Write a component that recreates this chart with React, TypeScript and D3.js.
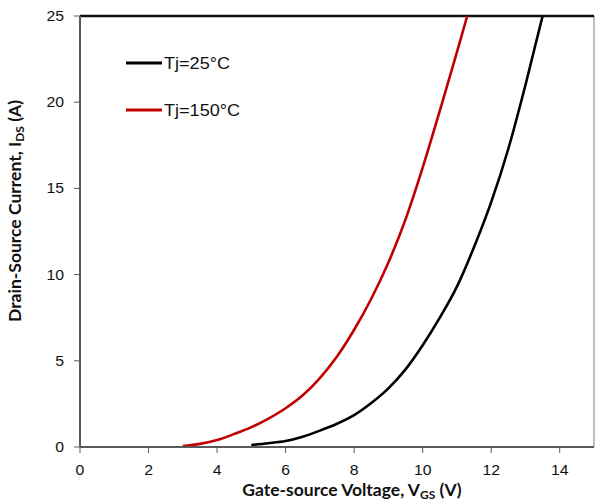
import React from "react";
import * as d3 from "d3";

const vgs25 = [5.0, 5.5, 6.0, 6.5, 7.0, 7.5, 8.0, 8.5, 9.0, 9.5, 10.0, 10.5, 11.0, 11.5, 12.0, 12.5, 13.0, 13.5];
const ids25 = [0.12, 0.22, 0.35, 0.6, 0.95, 1.35, 1.85, 2.55, 3.4, 4.5, 5.9, 7.5, 9.3, 11.6, 14.2, 17.3, 21.0, 25.0];
const vgs150 = [3.0, 3.5, 4.0, 4.5, 5.0, 5.5, 6.0, 6.5, 7.0, 7.5, 8.0, 8.5, 9.0, 9.5, 10.0, 10.5, 11.0, 11.3];
const ids150 = [0.05, 0.18, 0.4, 0.75, 1.15, 1.65, 2.25, 3.0, 4.0, 5.25, 6.8, 8.6, 10.7, 13.2, 16.2, 19.5, 22.9, 25.0];
const xTicks = [0, 2, 4, 6, 8, 10, 12, 14];
const yTicks = [0, 5, 10, 15, 20, 25];
const seriesNames = ["Tj=25°C", "Tj=150°C"];
const seriesColors = ["#000000", "#C00000"];

export default function App() {
  const W = 595, H = 502;
  const left = 80, right = 594, top = 16, bottom = 447;
  const x = d3.scaleLinear().domain([0, 15]).range([left, right]);
  const y = d3.scaleLinear().domain([0, 25]).range([bottom, top]);
  const line = d3
    .line<[number, number]>()
    .x((d) => x(d[0]))
    .y((d) => y(d[1]))
    .curve(d3.curveMonotoneX);
  const s25 = vgs25.map((v, i) => [v, ids25[i]] as [number, number]);
  const s150 = vgs150.map((v, i) => [v, ids150[i]] as [number, number]);
  const series = [s25, s150];
  const axisColor = "#595959";
  const tickFont = "'Liberation Sans', Arial, sans-serif";
  const titleFont = "Lato, 'Open Sans', sans-serif";
  const sx = 1.13;

  return (
    <svg width={W} height={H} style={{ position: "absolute", left: 0, top: 0, background: "#fff" }}>
      <line x1={right} y1={top} x2={right} y2={bottom} stroke="#808080" strokeWidth={1} />
      <line x1={left} y1={top} x2={right} y2={top} stroke="#111" strokeWidth={2.5} />
      {series.map((s, i) => (
        <path key={i} d={line(s) || ""} fill="none" stroke={seriesColors[i]} strokeWidth={2.6} />
      ))}
      <line x1={left} y1={top} x2={left} y2={bottom} stroke={axisColor} strokeWidth={2} />
      <line x1={left} y1={bottom} x2={right} y2={bottom} stroke={axisColor} strokeWidth={2} />
      {yTicks.map((t) => (
        <g key={"y" + t}>
          <line x1={left - 6} x2={left} y1={y(t)} y2={y(t)} stroke={axisColor} strokeWidth={1} />
          <text
            transform={`translate(64, ${y(t)}) scale(${sx}, 1)`}
            dy="0.35em"
            textAnchor="end"
            fontFamily={tickFont}
            fontSize={14}
            fill="#111"
          >
            {t}
          </text>
        </g>
      ))}
      {xTicks.map((t) => (
        <g key={"x" + t}>
          <line x1={x(t)} x2={x(t)} y1={bottom} y2={bottom + 6} stroke={axisColor} strokeWidth={1} />
          <text
            transform={`translate(${x(t)}, 475) scale(${sx}, 1)`}
            textAnchor="middle"
            fontFamily={tickFont}
            fontSize={14}
            fill="#111"
          >
            {t}
          </text>
        </g>
      ))}
      {seriesNames.map((n, i) => (
        <g key={n}>
          <line x1={126} x2={162} y1={63 + i * 47} y2={63 + i * 47} stroke={seriesColors[i]} strokeWidth={3} />
          <text
            transform={`translate(164, ${63 + i * 47}) scale(${sx}, 1)`}
            dy="0.36em"
            fontFamily={tickFont}
            fontSize={16}
            fill="#111"
          >
            {n}
          </text>
        </g>
      ))}
      <text x={352} y={496} textAnchor="middle" fontFamily={titleFont} fontWeight="bold" fontSize={17.5} fill="#111">
        Gate-source Voltage, V<tspan fontSize={12} dy={3}>GS</tspan>
        <tspan dy={-3}> (V)</tspan>
      </text>
      <text
        transform={`translate(21, 211) rotate(-90)`}
        textAnchor="middle"
        fontFamily={titleFont}
        fontWeight="bold"
        fontSize={17.5}
        fill="#111"
      >
        Drain-Source Current, I<tspan fontSize={12} dy={3}>DS</tspan>
        <tspan dy={-3}> (A)</tspan>
      </text>
    </svg>
  );
}
